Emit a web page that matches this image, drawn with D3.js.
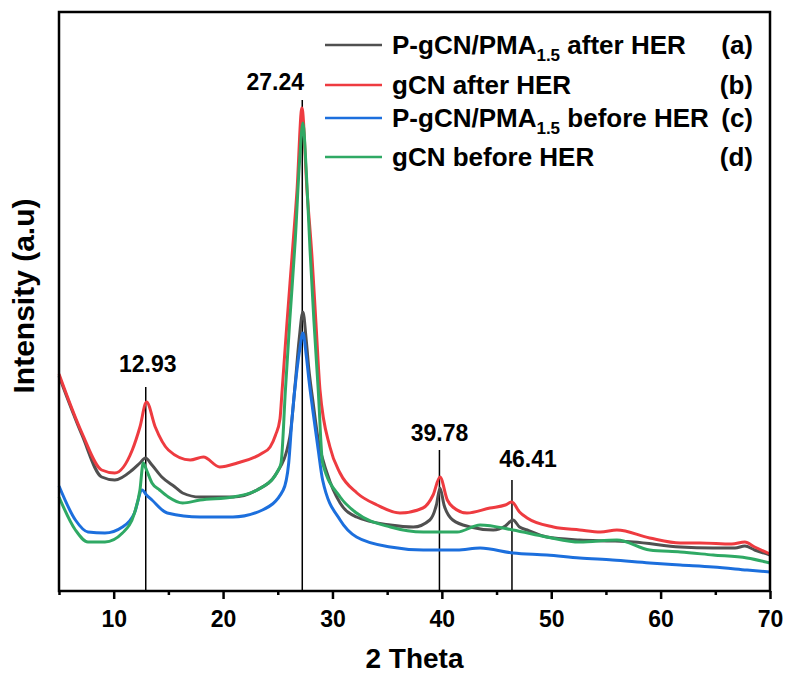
<!DOCTYPE html>
<html>
<head>
<meta charset="utf-8">
<script src="https://cdn.jsdelivr.net/npm/d3@7"></script>
<style>
    body { margin: 0; background: #fff; }
    text { font-family: "Liberation Sans", Arial, sans-serif; font-weight: bold; fill: #000; }
</style>
</head>
<body>
<div id="chart"></div>
<script>
// Data: [2 theta, intensity (a.u.)]
const seriesA = [[5.0,1075],[7.1,780],[8.9,570],[10.1,555],[11.7,605],[12.4,640],[12.9,665],[13.5,630],[14.4,570],[15.6,520],
    [16.3,490],[17.9,470],[20.9,470],[23.1,505],[24.9,590],[26.1,770],[26.6,1040],[26.95,1255],[27.3,1395],[27.6,1255],
    [27.85,1105],[28.2,955],[28.7,755],[29.5,590],[30.7,440],[32.2,370],[35.3,330],[37.4,320],[38.9,355],[39.5,430],
    [39.83,515],[40.2,430],[41.0,355],[42.6,320],[44.7,305],[45.8,325],[46.5,355],[47.1,320],[47.8,305],[49.6,270],
    [52.6,255],[55.6,250],[57.5,245],[61.8,220],[64.8,215],[66.8,215],[67.7,225],[68.6,205],[70.0,180]];

const seriesB = [[5.0,1085],[7.1,790],[8.9,605],[10.1,590],[11.7,705],[12.4,820],[13.0,945],[13.8,820],[15.0,705],[17.0,655],
    [18.2,670],[19.7,620],[21.3,640],[23.6,690],[24.3,720],[24.8,780],[25.2,860],[25.4,1005],[25.84,1340],[26.3,1670],
    [26.76,2005],[27.21,2415],[27.67,2005],[28.13,1670],[28.49,1340],[28.86,1005],[29.77,720],[30.69,590],[32.24,490],[34.07,430],
    [36.17,390],[38.27,415],[39.2,480],[39.83,570],[40.5,455],[41.0,420],[42.3,390],[44.4,415],[45.8,430],[46.4,445],
    [47.1,395],[47.8,365],[50.2,320],[52.6,305],[54.5,295],[56.0,305],[59.0,265],[61.8,240],[63.6,240],[66.5,235],
    [67.7,245],[68.6,220],[70.0,185]];

const seriesC = [[5.0,525],[6.5,355],[7.65,295],[9.2,290],[10.8,320],[11.9,390],[12.6,505],[13.0,480],[13.5,455],[14.9,390],
    [17.9,370],[20.9,370],[23.6,405],[25.5,505],[26.0,640],[26.3,860],[26.7,1080],[27.0,1205],[27.3,1290],[27.6,1180],
    [27.85,1055],[28.2,905],[28.7,705],[29.1,555],[30.7,355],[32.2,270],[35.3,220],[38.3,205],[41.4,205],[43.5,215],
    [46.5,190],[49.6,180],[52.6,165],[55.6,155],[59.0,140],[61.8,130],[64.8,120],[67.9,105],[70.0,95]];

const seriesD = [[5.0,470],[6.5,305],[7.65,245],[9.2,245],[10.8,290],[11.9,390],[12.4,505],[12.7,640],[13.0,605],[13.5,540],
    [14.2,505],[15.0,470],[16.3,440],[17.9,455],[20.9,470],[23.6,520],[25.0,600],[25.3,640],[25.7,1005],[26.1,1355],
    [26.6,1755],[27.0,2155],[27.3,2340],[27.6,2105],[27.95,1705],[28.3,1355],[28.7,1005],[29.1,640],[30.7,470],[32.2,390],
    [35.3,320],[38.3,295],[41.4,295],[43.5,330],[46.5,305],[49.6,270],[52.6,245],[56.0,255],[59.0,205],[61.8,195],
    [64.8,180],[67.9,165],[70.0,140]];

const seriesNames = ['P-gCN/PMA|1.5| after HER', 'gCN after HER', 'P-gCN/PMA|1.5| before HER', 'gCN before HER'];
const seriesTags = ['(a)', '(b)', '(c)', '(d)'];
const seriesColors = ['#505050', '#ee3b40', '#1c6fdd', '#2fa964'];

const peakPositions = [12.93, 27.24, 39.78, 46.41];
const peakLabels = ['12.93', '27.24', '39.78', '46.41'];
const peakLineTops = [1020, 2455, 705, 555];

const majorTicks = [10, 20, 30, 40, 50, 60, 70];
const minorTicks = [5, 15, 25, 35, 45, 55, 65];

function draw() {
    // Dimensions
    let dimensions = {
        width: 785,
        height: 677,
        margin: { top: 12, bottom: 86, left: 59, right: 15 },
    };
    dimensions.ctrWidth = dimensions.width - dimensions.margin.left - dimensions.margin.right;
    dimensions.ctrHeight = dimensions.height - dimensions.margin.top - dimensions.margin.bottom;

    const svg = d3.select('#chart')
        .append('svg')
        .attr('width', dimensions.width)
        .attr('height', dimensions.height);

    const ctr = svg.append('g')
        .attr('transform', `translate(${dimensions.margin.left}, ${dimensions.margin.top})`);

    // Scales
    const xScale = d3.scaleLinear().domain([5, 70]).range([0, dimensions.ctrWidth]);
    const yScale = d3.scaleLinear().domain([0, 2895]).range([dimensions.ctrHeight, 0]);

    // Peak marker lines
    const peakOffsets = [{ dx: 2, dy: -15 }, { dx: -27, dy: -10 }, { dx: 0, dy: -9 }, { dx: 16, dy: -13 }];
    peakPositions.forEach((p, i) => {
        ctr.append('line')
            .attr('x1', xScale(p)).attr('x2', xScale(p))
            .attr('y1', yScale(peakLineTops[i])).attr('y2', dimensions.ctrHeight)
            .attr('stroke', '#000')
            .attr('stroke-width', 1.5);
        ctr.append('text')
            .attr('x', xScale(p) + peakOffsets[i].dx)
            .attr('y', yScale(peakLineTops[i]) + peakOffsets[i].dy)
            .attr('text-anchor', 'middle')
            .style('font-size', '23px')
            .text(peakLabels[i]);
    });

    // Lines
    const line = d3.line()
        .x(d => xScale(d[0]))
        .y(d => yScale(d[1]))
        .curve(d3.curveMonotoneX);

    const allSeries = [seriesA, seriesB, seriesC, seriesD];
    ctr.append('g')
        .selectAll('path')
        .data(allSeries)
        .join('path')
        .attr('d', line)
        .attr('fill', 'none')
        .attr('stroke', (d, i) => seriesColors[i])
        .attr('stroke-width', 3)
        .attr('stroke-linejoin', 'round');

    // Axes
    const xAxis = d3.axisBottom(xScale)
        .tickValues(majorTicks)
        .tickSize(8)
        .tickSizeOuter(0)
        .tickPadding(12);
    const xMinor = d3.axisBottom(xScale)
        .tickValues(minorTicks)
        .tickSize(4)
        .tickSizeOuter(0)
        .tickFormat('');

    const xAxisGroup = ctr.append('g')
        .attr('transform', `translate(0, ${dimensions.ctrHeight})`)
        .call(xAxis);
    const xMinorGroup = ctr.append('g')
        .attr('transform', `translate(0, ${dimensions.ctrHeight})`)
        .call(xMinor);
    [xAxisGroup, xMinorGroup].forEach(g => {
        g.select('.domain').remove();
        g.selectAll('.tick line').attr('stroke', '#000').attr('stroke-width', 2.5);
    });
    xAxisGroup.selectAll('.tick text')
        .style('font-size', '23px')
        .style('font-family', '"Liberation Sans", Arial, sans-serif')
        .style('font-weight', 'bold');

    // Frame
    ctr.append('rect')
        .attr('x', 0).attr('y', 0)
        .attr('width', dimensions.ctrWidth)
        .attr('height', dimensions.ctrHeight)
        .attr('fill', 'none')
        .attr('stroke', '#000')
        .attr('stroke-width', 2.5);

    // Axis titles
    svg.append('text')
        .attr('x', dimensions.margin.left + dimensions.ctrWidth / 2)
        .attr('y', 668)
        .attr('text-anchor', 'middle')
        .style('font-size', '28px')
        .text('2 Theta');

    svg.append('text')
        .attr('transform', 'translate(34, 296) rotate(-90)')
        .attr('text-anchor', 'middle')
        .style('font-size', '30px')
        .text('Intensity (a.u)');

    // Legend
    const legendRows = [45, 85, 118, 157];
    const legend = svg.append('g');
    seriesNames.forEach((name, i) => {
        const y = legendRows[i];
        legend.append('line')
            .attr('x1', 325).attr('x2', 382)
            .attr('y1', y).attr('y2', y)
            .attr('stroke', seriesColors[i])
            .attr('stroke-width', 2.5);
        const t = legend.append('text')
            .attr('x', 392)
            .attr('y', y + 9)
            .style('font-size', '26px');
        const parts = name.split('|');
        parts.forEach((part, j) => {
            if (j % 2 === 1) {
                t.append('tspan')
                    .attr('dy', 7)
                    .style('font-size', '17px')
                    .text(part);
            } else {
                t.append('tspan')
                    .attr('dy', j > 0 ? -7 : 0)
                    .text(part);
            }
        });
        legend.append('text')
            .attr('x', 753)
            .attr('y', y + 9)
            .attr('text-anchor', 'end')
            .style('font-size', '26px')
            .text(seriesTags[i]);
    });
}

draw();
</script>
</body>
</html>
